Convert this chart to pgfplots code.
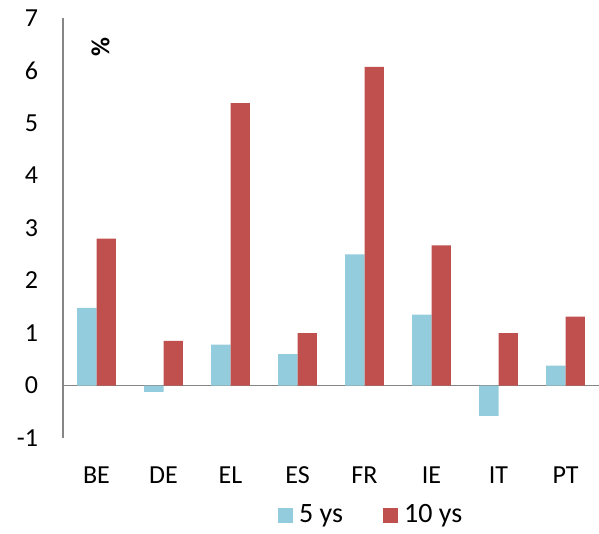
\documentclass[border=0pt]{standalone}
\usepackage{pgfplots}
\pgfplotsset{compat=1.18}
\usepackage{fontspec}
\setmainfont{Carlito}
\definecolor{fiveys}{HTML}{93CDDD}
\definecolor{tenys}{HTML}{C0504D}
\definecolor{axisgray}{HTML}{868686}

\begin{document}
\begin{tikzpicture}[x=1pt,y=1pt]
\fontsize{26}{30}\selectfont
\begin{axis}[
  at={(63pt,95pt)}, anchor=south west,
  scale only axis,
  width=536pt, height=420pt,
  ymin=-1, ymax=7,
  xmin=-0.5, xmax=7.5,
  ytick={-1,0,...,7},
  yticklabels={-1,0,1,2,3,4,5,6,7},
  xtick=data,
  xticklabels={BE,DE,EL,ES,FR,IE,IT,PT},
  axis lines=left,
  axis line style={-, axisgray, line width=1.2pt},
  x axis line style={draw=none},
  major tick length=0pt,
  tick label style={font=\fontsize{26}{30}\selectfont},
  yticklabel style={xshift=-16pt},
  xticklabel style={yshift=-20pt},
  extra y ticks={0},
  extra y tick labels={},
  extra y tick style={grid=major, major grid style={axisgray, line width=1.2pt}},
  ybar=0pt,
  bar width=0.29,
  clip=false,
  legend columns=2,
  legend style={draw=none, at={(0.575,-0.185)}, anchor=center,
    font=\fontsize{28}{32}\selectfont, inner sep=1pt,
    /tikz/every odd column/.append style={column sep=4pt},
    /tikz/every even column/.append style={column sep=38pt}},
  legend image code/.code={\fill[#1] (0pt,-7.5pt) rectangle (15pt,7.5pt);},
]
\addplot[fill=fiveys, draw=none] coordinates {
  (0,1.48) (1,-0.12) (2,0.78) (3,0.60) (4,2.50) (5,1.35) (6,-0.58) (7,0.38)};
\addplot[fill=tenys, draw=none] coordinates {
  (0,2.80) (1,0.85) (2,5.38) (3,1.00) (4,6.07) (5,2.67) (6,1.00) (7,1.31)};
\legend{5 ys, 10 ys}
\node[rotate=90, font=\bfseries\fontsize{26}{30}\selectfont] at (rel axis cs:0.07,0.93) {\%};
\end{axis}
\pgfresetboundingbox
\path[use as bounding box] (0,0) rectangle (599pt,533pt);
\end{tikzpicture}
\end{document}
